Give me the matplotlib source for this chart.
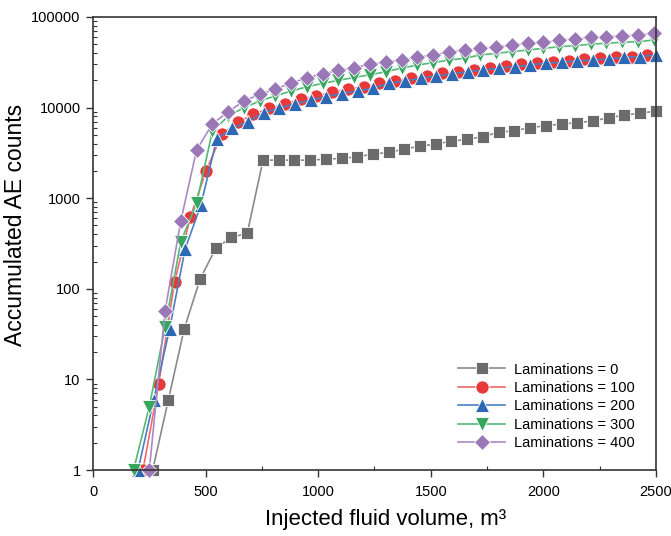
import matplotlib
matplotlib.use("Agg")
import matplotlib.pyplot as plt
from matplotlib.ticker import LogLocator, FixedLocator, NullFormatter, FixedFormatter

plt.rcParams['font.family'] = ['Liberation Sans', 'DejaVu Sans']

# accumulated AE counts vs injected volume for each lamination count
vol_0 = [265, 335, 405, 475, 545, 615, 685, 755, 825, 894, 964, 1034, 1104, 1174,
         1243, 1313, 1383, 1453, 1522, 1592, 1662, 1732, 1801, 1871, 1941, 2011,
         2081, 2150, 2220, 2290, 2360, 2430, 2499]
ae_0 = [1, 6, 36, 127, 280, 370, 410, 2630, 2630, 2630, 2630, 2700, 2750, 2860,
        3070, 3200, 3490, 3750, 3960, 4260, 4465, 4770, 5340, 5560, 6000, 6310,
        6590, 6810, 7110, 7730, 8280, 8650, 9170]

vol_100 = [222, 292, 362, 432, 502, 572, 642, 712, 782, 852, 922, 992, 1062, 1132,
           1202, 1272, 1342, 1412, 1482, 1552, 1622, 1692, 1762, 1832, 1902, 1972,
           2042, 2112, 2182, 2252, 2322, 2392, 2462]
ae_100 = [1, 9, 118, 615, 2000, 5070, 6880, 8430, 9800, 11000, 12300, 13500, 14700,
          15900, 17000, 18500, 19800, 21000, 22300, 23900, 24900, 26000, 27600,
          28800, 30300, 31000, 32100, 33000, 34100, 35000, 35900, 36500, 38100]

vol_200 = [200, 270, 340, 409, 479, 549, 618, 688, 758, 827, 897, 967, 1036, 1106,
           1176, 1245, 1315, 1385, 1455, 1524, 1594, 1664, 1733, 1803, 1873, 1942,
           2012, 2082, 2151, 2221, 2291, 2360, 2430, 2500]
ae_200 = [1, 6, 36, 275, 841, 4470, 5900, 7000, 8790, 9900, 11000, 12100, 13200,
          14300, 15300, 16400, 18500, 19700, 21000, 22300, 23500, 24900, 26000,
          27200, 28300, 29500, 31000, 31600, 32700, 33500, 34400, 35900, 36500, 38100]

vol_300 = [180, 250, 320, 390, 460, 530, 600, 670, 740, 810, 880, 950, 1020, 1090,
           1160, 1230, 1300, 1370, 1440, 1510, 1580, 1650, 1720, 1790, 1860, 1930,
           2000, 2070, 2140, 2210, 2280, 2350, 2420, 2490]
ae_300 = [1, 5, 38, 331, 879, 5500, 8000, 10000, 11800, 13500, 15200, 17000, 18500,
          20000, 21500, 23000, 24900, 27200, 29500, 31300, 33500, 35000, 38100,
          39700, 41400, 43200, 45100, 47000, 48200, 50000, 51300, 52600, 53400, 55700]

vol_400 = [250, 320, 390, 460, 530, 600, 670, 740, 810, 880, 950, 1020, 1090, 1160,
           1230, 1300, 1370, 1440, 1510, 1580, 1650, 1720, 1790, 1860, 1930, 2000,
           2070, 2140, 2210, 2280, 2350, 2420, 2490]
ae_400 = [1, 57, 565, 3400, 6600, 9000, 11800, 14000, 16000, 18600, 21400, 23500,
          25700, 27700, 29900, 32000, 33500, 35900, 38100, 40800, 43200, 45100,
          47000, 49100, 51300, 52600, 55700, 57200, 59700, 60600, 62200, 63300, 66100]

series = [
    (vol_0, ae_0, 'Laminations = 0', 's', '#6b6b6b', '#8a8a8a', 8.5),
    (vol_100, ae_100, 'Laminations = 100', 'o', '#e8393a', '#f06a6a', 9.5),
    (vol_200, ae_200, 'Laminations = 200', '^', '#2d68b4', '#4a7ec4', 10),
    (vol_300, ae_300, 'Laminations = 300', 'v', '#37a65e', '#55b877', 10),
    (vol_400, ae_400, 'Laminations = 400', 'D', '#9a78b7', '#a98ac4', 8.5),
]

fig = plt.figure(figsize=(6.71, 5.36), dpi=100)
ax = fig.add_axes([0.1386, 0.1231, 0.8390, 0.8452])

for x, y, lab, m, mc, lc, ms in series:
    ax.plot(x, y, '-', color=lc, lw=1.2, marker=m, markersize=ms,
            markerfacecolor=mc, markeredgecolor='white', markeredgewidth=0.6,
            label=lab, clip_on=False)

ax.set_yscale('log')
ax.set_xlim(0, 2500)
ax.set_ylim(1, 100000)

ax.xaxis.set_major_locator(FixedLocator([0, 500, 1000, 1500, 2000, 2500]))
ax.xaxis.set_minor_locator(FixedLocator([250, 750, 1250, 1750, 2250]))
ax.yaxis.set_major_locator(FixedLocator([1, 10, 100, 1000, 10000, 100000]))
ax.yaxis.set_major_formatter(FixedFormatter(['1', '10', '100', '1000', '10000', '100000']))
ax.yaxis.set_minor_locator(LogLocator(base=10, subs=range(2, 10)))
ax.yaxis.set_minor_formatter(NullFormatter())

ax.tick_params(which='major', direction='out', length=5, width=1, color='#333333',
               labelsize=10.5, pad=6)
ax.tick_params(which='minor', direction='in', length=3, width=0.8, color='#333333')
ax.tick_params(axis='y', which='major', pad=4)

for s in ax.spines.values():
    s.set_color('#3a3333')
    s.set_linewidth(1.2)

ax.set_xlabel('Injected fluid volume, m³', fontsize=16)
ax.set_ylabel('Accumulated AE counts', fontsize=16.5)
ax.xaxis.set_label_coords(0.52, -0.085)
ax.yaxis.set_label_coords(-0.118, 0.54)

ax.legend(loc='lower right', bbox_to_anchor=(0.985, 0.015), frameon=False,
          fontsize=10.5, handlelength=3.2, labelspacing=0.3, handletextpad=0.6)

fig.savefig('out.png', dpi=100)
